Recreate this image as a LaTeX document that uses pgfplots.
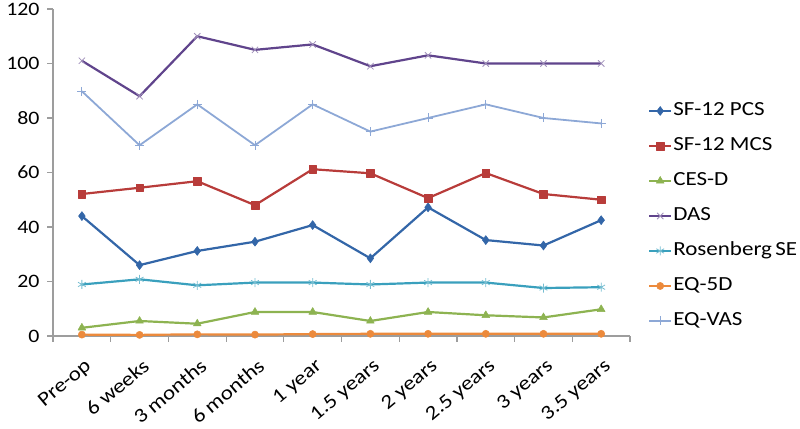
\documentclass[border=0pt]{standalone}
\usepackage{fontspec}
\setmainfont{Carlito}[FakeStretch=1.15]
\usepackage{pgfplots}
\pgfplotsset{compat=1.18}

\definecolor{pcs}{HTML}{3366A8}
\definecolor{mcs}{HTML}{B83C3A}
\definecolor{cesd}{HTML}{8DB351}
\definecolor{das}{HTML}{60448C}
\definecolor{rose}{HTML}{3AA0BD}
\definecolor{eqfd}{HTML}{EC8A3C}
\definecolor{eqvas}{HTML}{8DA8D6}
\definecolor{axgray}{HTML}{9D9D9D}

\begin{document}
\begin{tikzpicture}
\begin{axis}[
  scale only axis,
  width=577pt, height=327pt,
  xmin=0.5, xmax=10.5,
  ymin=0, ymax=120,
  ytick={0,20,...,120},
  xtick={1,...,10},
  xticklabels={Pre-op,6 weeks,3 months,6 months,1 year,1.5 years,2 years,2.5 years,3 years,3.5 years},
  minor xtick={0.5,1.5,...,10.5},
  major x tick style={draw=none},
  axis x line=bottom, axis y line=left,
  axis line style={-, draw=axgray, line width=1.2pt},
  every tick/.style={draw=axgray, line width=1.2pt},
  tick align=outside,
  major tick length=6pt, minor tick length=6pt,
  yticklabel style={font=\fontsize{19}{23}\selectfont, xshift=-4pt},
  /pgf/number format/assume math mode=true,
  xticklabel style={font=\fontsize{20}{24}\selectfont, xshift=2pt, yshift=-14pt, rotate=40, anchor=north east, inner sep=1pt},
  clip=false,
  legend cell align={left},
  legend style={draw=none, fill=none, at={(1.031,0.367)}, anchor=west, inner sep=0pt,
    font=\fontsize{20}{24}\selectfont, row sep=15pt,
    nodes={text height=14pt, text depth=4pt, inner sep=1pt}},
  legend image code/.code={\draw[mark repeat=2, mark phase=2] plot coordinates {(0pt,0pt) (11pt,0pt) (22pt,0pt)};},
  every axis plot/.append style={line width=2.2pt, line join=round},
]
\addplot[pcs, mark=diamond*, mark size=4.5pt, mark options={solid, line width=0.5pt}] coordinates {
  (1,44) (2,26) (3,31.2) (4,34.6) (5,40.7) (6,28.5) (7,47.2) (8,35.2) (9,33.2) (10,42.5)};
\addlegendentry{SF-12 PCS}
\addplot[mcs, mark=square*, mark size=3.8pt, mark options={solid, line width=0.5pt}] coordinates {
  (1,52.1) (2,54.4) (3,56.8) (4,48) (5,61.2) (6,59.7) (7,50.6) (8,59.8) (9,52.1) (10,50)};
\addlegendentry{SF-12 MCS}
\addplot[cesd, mark=triangle*, mark size=4.5pt, mark options={solid, line width=0.5pt}] coordinates {
  (1,3) (2,5.5) (3,4.5) (4,8.8) (5,8.8) (6,5.5) (7,8.8) (8,7.6) (9,6.8) (10,9.8)};
\addlegendentry{CES-D}
\addplot[das, mark=x, mark size=4.5pt, mark options={solid, line width=0.8pt, draw=das!60}] coordinates {
  (1,101) (2,88) (3,110) (4,105) (5,107) (6,99) (7,103) (8,100) (9,100) (10,100)};
\addlegendentry{DAS}
\addplot[rose, mark=asterisk, mark size=4.5pt, mark options={solid, line width=0.8pt, draw=rose!70}] coordinates {
  (1,18.9) (2,20.8) (3,18.6) (4,19.6) (5,19.6) (6,18.9) (7,19.6) (8,19.6) (9,17.6) (10,17.9)};
\addlegendentry{Rosenberg\,SE}
\addplot[eqfd, mark=*, mark size=3.6pt, mark options={solid, line width=0.5pt}] coordinates {
  (1,0.5) (2,0.4) (3,0.6) (4,0.5) (5,0.7) (6,0.8) (7,0.8) (8,0.8) (9,0.8) (10,0.8)};
\addlegendentry{EQ-5D}
\addplot[eqvas, line width=1.8pt, mark=+, mark size=4.5pt, mark options={solid, line width=0.8pt}] coordinates {
  (1,89.8) (2,70) (3,85) (4,70) (5,85) (6,75) (7,80) (8,85) (9,80) (10,78)};
\addlegendentry{EQ-VAS}
\coordinate (bl) at (rel axis cs:-0.0919,-0.2844);
\coordinate (tr) at (rel axis cs:1.2946,1.0275);
\end{axis}
\pgfresetboundingbox
\path[use as bounding box] (bl) rectangle (tr);
\end{tikzpicture}
\end{document}
